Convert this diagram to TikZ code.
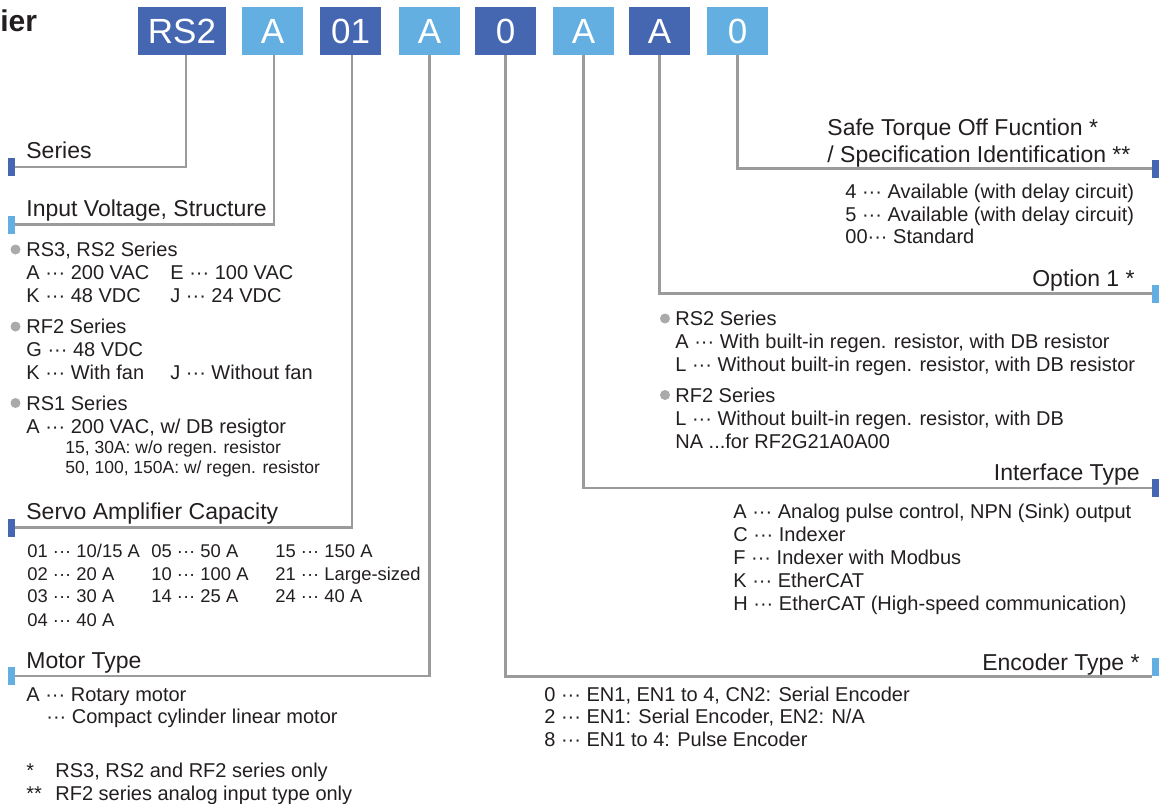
\documentclass[tikz,border=0pt]{standalone}
\usepackage{fontspec}
\setmainfont{Liberation Sans}
\usetikzlibrary{positioning}
\definecolor{codedark}{RGB}{69,102,176}
\definecolor{codelight}{RGB}{99,175,225}
\definecolor{leadgray}{RGB}{155,155,155}
\definecolor{dotgray}{RGB}{170,170,170}
\definecolor{ink}{RGB}{35,31,32}

\begin{document}
\begin{tikzpicture}[
  x=0.5pt,y=-0.5pt,
  code/.style={minimum width=30.5pt,minimum height=24pt,inner sep=0pt,text=white,font=\fontsize{17.5}{19}\selectfont},
  dark/.style={code,fill=codedark},
  light/.style={code,fill=codelight},
  tag/.style={minimum width=3.5pt,minimum height=9pt,inner sep=0pt},
  lead/.style={draw=leadgray,line width=1.1pt},
  head/.style={anchor=west,inner sep=0pt,text=ink,text height=8.2pt,text depth=0pt,font=\fontsize{11.5}{13}\selectfont},
  item/.style={anchor=west,inner sep=0pt,text=ink,text height=7.2pt,text depth=0pt,font=\fontsize{10}{12}\selectfont},
  cell/.style={item,text height=6.6pt,font=\fontsize{9.2}{11}\selectfont},
  note/.style={anchor=west,inner sep=0pt,text=ink,text height=6.3pt,text depth=0pt,font=\fontsize{8.75}{10}\selectfont},
  dot/.style={circle,fill=dotgray,inner sep=0pt,minimum size=5pt}
]
\path[use as bounding box,fill=white] (0,0) rectangle (1159,803);

% title fragment
\node[anchor=base west,inner sep=0pt,text=ink,font=\bfseries\fontsize{15}{17}\selectfont] (ttl) at (0,32) {ier};

% code boxes
\node[dark,minimum width=44pt] (bSer) at (182,31) {RS2};
\node[light] (bVol) at (272.5,31) {A};
\node[dark]  (bCap) at (350.5,31) {01};
\node[light] (bMot) at (429.5,31) {A};
\node[dark]  (bEnc) at (505.5,31) {0};
\node[light] (bInt) at (583.5,31) {A};
\node[dark]  (bOpt) at (659.5,31) {A};
\node[light] (bSto) at (737.5,31) {0};

% end tags
\node[tag,fill=codedark]  (tSer) at (11.5,167) {};
\node[tag,fill=codelight] (tVol) at (11.5,224.5) {};
\node[tag,fill=codedark]  (tCap) at (11.5,527.5) {};
\node[tag,fill=codelight] (tMot) at (11.5,676) {};
\node[tag,fill=codedark]  (tSto) at (1155.5,168.5) {};
\node[tag,fill=codelight] (tOpt) at (1155.5,293.5) {};
\node[tag,fill=codedark]  (tInt) at (1155.5,488) {};
\node[tag,fill=codelight] (tEnc) at (1155.5,667) {};

% leader lines
\draw[lead] ([xshift=2pt]bSer.south) |- (tSer.east);
\draw[lead] ([xshift=0.75pt]bVol.south) |- (tVol.east);
\draw[lead] ([xshift=0.75pt]bCap.south) |- (tCap.east);
\draw[lead] (bMot.south) |- (tMot.east);
\draw[lead] (bEnc.south) |- (tEnc.south west);
\draw[lead] (bInt.south) |- (tInt.west);
\draw[lead] (bOpt.south) |- (tOpt.west);
\draw[lead] (bSto.south) |- (tSto.west);

% series / input voltage
\node[head] (hSer) at (26,150) {Series};
\node[head] (hVol) at (26,208.5) {Input Voltage, Structure};
\node[dot] (d1) at (15.5,249.5) {};
\node[item] (v1) at (26,249.5) {RS3, RS2 Series};
\node[item] (v2) at (26,272.5) {A ··· 200 VAC};
\node[item] (v3) at (170,272.5) {E ··· 100 VAC};
\node[item] (v4) at (26,295) {K ··· 48 VDC};
\node[item] (v5) at (170,295) {J ··· 24 VDC};
\node[dot] (d2) at (15.5,326.5) {};
\node[item] (v6) at (26,326.5) {RF2 Series};
\node[item] (v7) at (26,349.5) {G ··· 48 VDC};
\node[item] (v8) at (26,372.5) {K ··· With fan};
\node[item] (v9) at (170,372.5) {J ··· Without fan};
\node[dot] (d3) at (15.5,403) {};
\node[item] (v10) at (26,403) {RS1 Series};
\node[item] (v11) at (26,426) {A ··· 200 VAC, w/ DB resigtor};
\node[note] (v12) at (65,447.5) {15, 30A: w/o regen. resistor};
\node[note] (v13) at (65,467) {50, 100, 150A: w/ regen. resistor};

% capacity
\node[head] (hCap) at (26,511.5) {Servo Amplifier Capacity};
\node[cell] (c1) at (27,550.5) {01 ··· 10/15 A};
\node[cell] (c2) at (27,573.5) {02 ··· 20 A};
\node[cell] (c3) at (27,596) {03 ··· 30 A};
\node[cell] (c4) at (27,619.5) {04 ··· 40 A};
\node[cell] (c5) at (151,550.5) {05 ··· 50 A};
\node[cell] (c6) at (151,573.5) {10 ··· 100 A};
\node[cell] (c7) at (151,596) {14 ··· 25 A};
\node[cell] (c8) at (275,550.5) {15 ··· 150 A};
\node[cell] (c9) at (275,573.5) {21 ··· Large-sized};
\node[cell] (c10) at (275,596) {24 ··· 40 A};

% motor type
\node[head] (hMot) at (26,660.5) {Motor Type};
\node[item] (m1) at (26,694) {A ··· Rotary motor};
\node[item] (m2) at (46,716.5) {··· Compact cylinder linear motor};

% footnotes
\node[item] (f1) at (26,770) {*};
\node[item] (f2) at (55,770) {RS3, RS2 and RF2 series only};
\node[item] (f3) at (26,793) {**};
\node[item] (f4) at (55,793) {RF2 series analog input type only};

% safe torque off
\node[head] (hSto) at (827,127.5) {Safe Torque Off Fucntion *};
\node[head] (hSto2) at (827,154) {/ Specification Identification **};
\node[item] (s1) at (845,191.5) {4 ··· Available (with delay circuit)};
\node[item] (s2) at (845,214) {5 ··· Available (with delay circuit)};
\node[item] (s3) at (845,236.5) {00··· Standard};

% option 1
\node[head,anchor=east] (hOpt) at (1135,278) {Option 1 *};
\node[dot] (d4) at (665,318.5) {};
\node[item] (o1) at (675,318.5) {RS2 Series};
\node[item] (o2) at (675,341.5) {A ··· With built-in regen. resistor, with DB resistor};
\node[item] (o3) at (675,364.5) {L ··· Without built-in regen. resistor, with DB resistor};
\node[dot] (d5) at (665,395) {};
\node[item] (o4) at (675,395) {RF2 Series};
\node[item] (o5) at (675,418.5) {L ··· Without built-in regen. resistor, with DB};
\node[item] (o6) at (675,441) {NA ...for RF2G21A0A00};

% interface type
\node[head,anchor=east] (hInt) at (1140,472.5) {Interface Type};
\node[item] (i1) at (733,511.5) {A ··· Analog pulse control, NPN (Sink) output};
\node[item] (i2) at (733,534.5) {C ··· Indexer};
\node[item] (i3) at (733,557.5) {F ··· Indexer with Modbus};
\node[item] (i4) at (733,580.5) {K ··· EtherCAT};
\node[item] (i5) at (733,603.5) {H ··· EtherCAT (High-speed communication)};

% encoder type
\node[head,anchor=east] (hEnc) at (1140,662.5) {Encoder Type *};
\node[item] (e1) at (544,694) {0 ··· EN1, EN1 to 4, CN2: Serial Encoder};
\node[item] (e2) at (544,716.5) {2 ··· EN1: Serial Encoder, EN2: N/A};
\node[item] (e3) at (544,739.5) {8 ··· EN1 to 4: Pulse Encoder};
\end{tikzpicture}
\end{document}
